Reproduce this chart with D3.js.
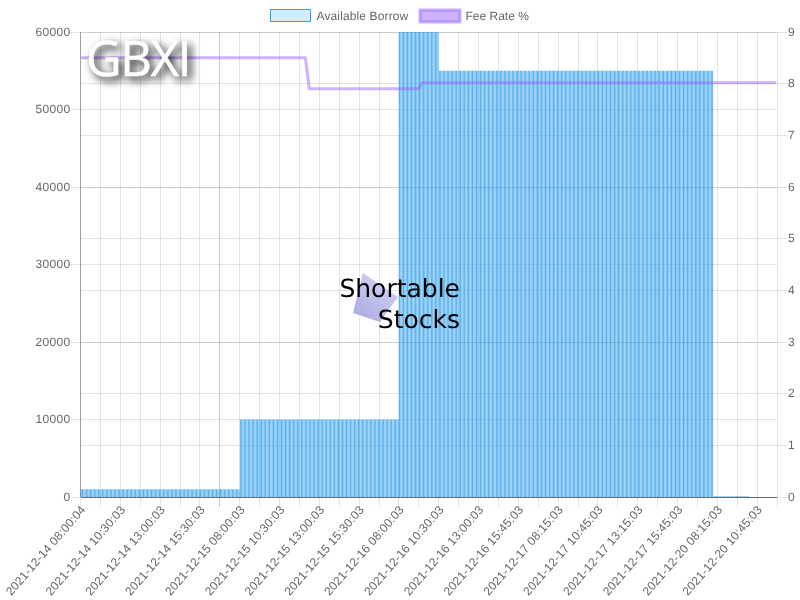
<!DOCTYPE html>
<html>
<head>
<meta charset="utf-8">
<script src="https://cdnjs.cloudflare.com/ajax/libs/d3/7.8.5/d3.min.js"></script>
<style>
  html, body { margin: 0; padding: 0; background: #fff; }
  svg { display: block; will-change: transform; }
  text { font-family: "Liberation Sans", Arial, sans-serif; text-rendering: geometricPrecision; }
  .tick text { font-size: 12px; fill: #666; letter-spacing: 0.33px; }
  .grid line { stroke: rgba(0,0,0,0.1); shape-rendering: crispEdges; }
  .grid path { display: none; }
</style>
</head>
<body>
<script>
// DATA
var ticker = "GBXI";
var tickLabels = [
  "2021-12-14 08:00:04", "2021-12-14 10:30:03", "2021-12-14 13:00:03", "2021-12-14 15:30:03",
  "2021-12-15 08:00:03", "2021-12-15 10:30:03", "2021-12-15 13:00:03", "2021-12-15 15:30:03",
  "2021-12-16 08:00:03", "2021-12-16 10:30:03", "2021-12-16 13:00:03", "2021-12-16 15:45:03",
  "2021-12-17 08:15:03", "2021-12-17 10:45:03", "2021-12-17 13:15:03", "2021-12-17 15:45:03",
  "2021-12-20 08:15:03", "2021-12-20 10:45:03"
];
var leftTicks = [0, 10000, 20000, 30000, 40000, 50000, 60000];
var rightTicks = [0, 1, 2, 3, 4, 5, 6, 7, 8, 9];

// the series are flat for long runs, so each is kept as value + how many samples it holds
var borrowValues = [1000, 10000, 60000, 55000, 100, 0];
var borrowRuns = [120, 120, 30, 207, 27, 21];
var feeValues = [8.5, 8.3, 8.1, 7.9, 7.93, 7.97, 8.02];
var feeRuns = [170, 1, 1, 83, 1, 1, 268];

function expand(values, runs) {
  var out = [];
  values.forEach(function(v, i) {
    for (var k = 0; k < runs[i]; k++) out.push(v);
  });
  return out;
}
var borrow = expand(borrowValues, borrowRuns);
var fee = expand(feeValues, feeRuns);
var samples = d3.range(borrow.length);

// SIZES
var w = 800, h = 600;
var left = 80.5, right = 777, top_ = 32, bottom = 497;
var blue = "rgb(54,162,235)";
var purple = "rgba(153,102,255,0.5)";

var svg = d3.select("body").append("svg").attr("width", w).attr("height", h);

// SCALES
var x = d3.scaleBand().domain(samples).range([left, right]).paddingInner(0.3).paddingOuter(0.15);
var xEdge = d3.scaleLinear().domain([0, samples.length]).range([left, right]);
var yLeft = d3.scaleLinear().domain([0, 60000]).range([bottom, top_]);
var yRight = d3.scaleLinear().domain([0, 9]).range([bottom, top_]);

// GRID + AXES
var edges = d3.range(0, samples.length + 1, 15);
var gridX = svg.append("g").attr("class", "grid").attr("transform", "translate(0," + bottom + ")")
  .call(d3.axisBottom(xEdge).tickValues(edges).tickSize(-(bottom - top_)).tickFormat(""));
gridX.selectAll("line").attr("y1", 10);
gridX.selectAll(".tick").attr("transform", function(d) {
  return "translate(" + (Math.round(xEdge(d) - 0.5) + 0.5) + ",0)";
});
// this one gridline is drawn darker in the original
gridX.selectAll(".tick").filter(function(d) { return d === 105; })
  .select("line").style("stroke", "rgba(0,0,0,0.22)");

function styleY(g, scale) {
  g.select("path").remove();
  g.selectAll("line").attr("stroke", "rgba(0,0,0,0.1)").attr("shape-rendering", "crispEdges");
  g.selectAll(".tick").attr("transform", function(d) {
    return "translate(0," + (Math.round(scale(d) - 0.5) + 0.5) + ")";
  });
  g.selectAll("text").attr("dy", "0.27em");
}

var axisL = svg.append("g").attr("transform", "translate(" + left + ",0)")
  .call(d3.axisLeft(yLeft).tickValues(leftTicks).tickFormat(d3.format("d")).tickSizeInner(10).tickSizeOuter(0).tickPadding(0));
styleY(axisL, yLeft);
axisL.selectAll("line").attr("x2", right - left).attr("x1", -10);

var axisR = svg.append("g").attr("transform", "translate(" + right + ",0)")
  .call(d3.axisRight(yRight).tickValues(rightTicks).tickFormat(d3.format("d")).tickSizeInner(10).tickSizeOuter(0).tickPadding(1));
styleY(axisR, yRight);
axisR.selectAll("line").attr("x1", -(right - left)).attr("x2", 10);

// BARS
svg.append("g").selectAll("rect")
  .data(samples)
  .enter()
  .append("rect")
  .attr("x", function(d) { return x(d); })
  .attr("width", x.bandwidth())
  .attr("y", function(d) { return yLeft(borrow[d]); })
  .attr("height", function(d) { return bottom - yLeft(borrow[d]); })
  .attr("fill", blue)
  .attr("fill-opacity", 0.9);

// axis lines on top of the grid
svg.append("line").attr("x1", left).attr("x2", left).attr("y1", top_).attr("y2", bottom)
  .attr("stroke", "rgba(0,0,0,0.3)").attr("shape-rendering", "crispEdges");
svg.append("line").attr("x1", left).attr("x2", right).attr("y1", bottom + 0.5).attr("y2", bottom + 0.5)
  .attr("stroke", "rgba(0,0,0,0.5)").attr("shape-rendering", "crispEdges");

// FEE LINE
var line = d3.line()
  .x(function(d) { return x(d) + x.bandwidth() / 2; })
  .y(function(d) { return yRight(fee[d]); });
svg.append("path")
  .datum(samples)
  .attr("d", line)
  .attr("fill", "none")
  .attr("stroke", purple)
  .attr("stroke-width", 3)
  .attr("stroke-linejoin", "round");

// X LABELS
var xLabels = svg.append("g").attr("transform", "translate(0," + bottom + ")")
  .call(d3.axisBottom(x)
    .tickValues(tickLabels.map(function(d, i) { return i * 30; }))
    .tickSize(0)
    .tickFormat(function(d) { return tickLabels[d / 30]; }));
xLabels.select("path").remove();
xLabels.selectAll("text")
  .style("letter-spacing", "0.15px")
  .attr("text-anchor", "end")
  .attr("dy", 0)
  .attr("y", 0)
  .attr("transform", "translate(5,13) rotate(-49)");

// LEGEND
var legend = svg.append("g");
legend.append("rect").attr("x", 270.5).attr("y", 9.5).attr("width", 40).attr("height", 12)
  .attr("fill", "rgba(54,162,235,0.2)").attr("stroke", blue).attr("stroke-width", 1);
legend.append("text").attr("x", 316.5).attr("y", 20).attr("font-size", 12).attr("fill", "#666")
  .style("letter-spacing", "0.13px").text("Available Borrow");
legend.append("rect").attr("x", 420).attr("y", 10).attr("width", 40).attr("height", 12)
  .attr("fill", purple).attr("stroke", purple).attr("stroke-width", 3);
legend.append("text").attr("x", 465.5).attr("y", 20).attr("font-size", 12).attr("fill", "#666").text("Fee Rate %");

// WATERMARK
var grad = svg.append("defs").append("linearGradient").attr("id", "logoFade")
  .attr("x1", "0.8").attr("y1", "0.1").attr("x2", "0.2").attr("y2", "0.9");
grad.append("stop").attr("offset", "0").attr("stop-color", "#d2d2f8");
grad.append("stop").attr("offset", "1").attr("stop-color", "#aeaee0");

var logo = svg.append("g");
logo.append("polygon").attr("points", "363,273 398,297 380,322 353,313").attr("fill", "url(#logoFade)");
logo.append("text").attr("x", 460).attr("y", 297).attr("text-anchor", "end")
  .style("font-family", "'DejaVu Sans'").attr("font-size", 25).attr("fill", "#000").text("Shortable");
logo.append("text").attr("x", 460).attr("y", 328).attr("text-anchor", "end")
  .style("font-family", "'DejaVu Sans'").attr("font-size", 25).attr("fill", "#000").text("Stocks");

svg.append("text").attr("x", 86).attr("y", 76)
  .style("font-family", "'Open Sans'")
  .style("letter-spacing", "-1.3px")
  .style("filter", "drop-shadow(4px 4px 4px rgba(0,0,0,0.95))")
  .attr("font-size", 49).attr("fill", "#fff").attr("stroke", "#fff").attr("stroke-width", 0.5).text(ticker);
</script>
</body>
</html>
